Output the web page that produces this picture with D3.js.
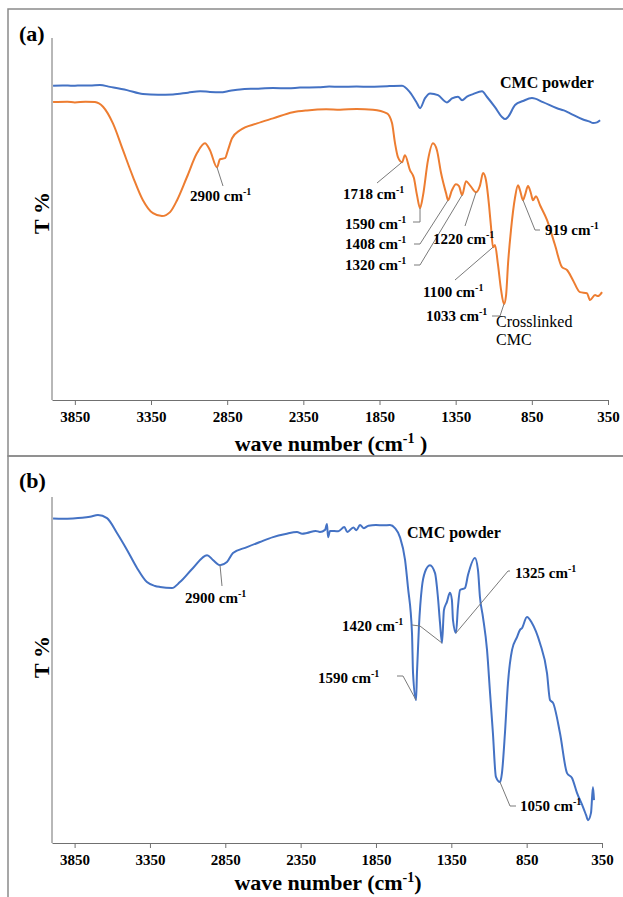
<!DOCTYPE html>
<html>
<head>
<meta charset="utf-8">
<script src="https://cdn.jsdelivr.net/npm/d3@7/dist/d3.min.js"></script>
<style>
  body { margin: 0; background: #fff; }
  text { font-family: "Liberation Serif", "Times New Roman", serif; font-weight: bold; fill: #000; }
</style>
</head>
<body>
<div id="chart"></div>
<script>
// tick labels shared by both panels
var tickValues = [3850, 3350, 2850, 2350, 1850, 1350, 850, 350];

// panel (a) - CMC powder, [wave number, T %]
var cmcPowderA = [
  [3993, 86.8], [3930, 86.9], [3862, 86.8], [3800, 86.9], [3751, 86.9], [3685, 87.0], [3619, 86.5],
  [3508, 85.6], [3403, 84.5], [3304, 84.3], [3206, 84.4], [3107, 84.9], [3028, 85.3], [2963, 85.1],
  [2897, 85.0], [2831, 85.4], [2766, 85.8], [2661, 86.0], [2549, 86.2], [2450, 86.1], [2372, 86.3],
  [2250, 86.4], [2180, 86.6], [2109, 86.5], [2000, 86.6], [1912, 86.5], [1800, 86.7], [1702, 86.8],
  [1650, 85.0], [1604, 82.0], [1584, 80.6], [1551, 83.4], [1518, 84.7], [1466, 84.2], [1407, 82.2],
  [1374, 83.3], [1335, 83.8], [1308, 82.8], [1276, 83.8], [1236, 84.5], [1177, 85.3], [1144, 83.7],
  [1092, 80.9], [1046, 78.2], [1026, 77.6], [1006, 78.2], [960, 81.5], [908, 82.6], [849, 83.4],
  [777, 82.3], [685, 80.6], [640, 80.0], [599, 79.2], [514, 77.5], [470, 76.9], [448, 76.5],
  [422, 76.7], [402, 77.3]
];

// panel (a) - crosslinked CMC
var crosslinkedA = [
  [3993, 82.3], [3900, 82.4], [3850, 82.2], [3780, 82.4], [3718, 82.3], [3665, 81.0], [3600, 76.4],
  [3534, 69.0], [3468, 61.6], [3403, 55.2], [3337, 51.6], [3278, 50.8], [3225, 51.9], [3179, 55.2],
  [3114, 61.6], [3048, 68.2], [2996, 70.9], [2963, 69.0], [2917, 64.3], [2897, 66.5], [2864, 66.8],
  [2845, 69.0], [2818, 72.3], [2766, 74.5], [2654, 76.4], [2549, 77.8], [2418, 79.5], [2326, 80.0],
  [2200, 80.3], [2109, 80.2], [2000, 80.4], [1893, 80.2], [1801, 79.2], [1768, 76.5], [1748, 70.9],
  [1729, 67.1], [1702, 65.7], [1683, 67.6], [1650, 63.5], [1624, 61.3], [1604, 56.6], [1584, 53.0],
  [1564, 56.6], [1532, 66.2], [1499, 70.9], [1473, 69.0], [1446, 62.7], [1413, 57.1], [1400, 55.2],
  [1374, 58.0], [1348, 59.6], [1328, 59.1], [1308, 56.6], [1282, 60.4], [1256, 59.3], [1216, 57.4],
  [1190, 59.3], [1170, 62.7], [1151, 60.7], [1131, 53.8], [1118, 47.8], [1105, 42.2], [1092, 42.8],
  [1072, 37.3], [1052, 30.4], [1033, 26.5], [1019, 29.0], [1006, 37.8], [987, 46.9], [960, 56.0],
  [941, 59.3], [928, 58.0], [908, 55.2], [895, 56.6], [875, 59.1], [856, 57.1], [843, 55.2],
  [823, 56.3], [796, 53.8], [750, 49.7], [698, 42.8], [652, 36.7], [619, 35.9], [580, 33.1],
  [534, 29.8], [488, 29.5], [468, 27.6], [435, 29.0], [416, 28.7], [389, 29.8]
];

// panel (b) - CMC powder
var cmcPowderB = [
  [3993, 93.8], [3930, 93.7], [3861, 93.8], [3800, 94.0], [3748, 94.3], [3695, 94.8], [3635, 93.9],
  [3569, 89.6], [3502, 84.7], [3436, 79.5], [3370, 75.4], [3316, 74.3], [3283, 74.0], [3204, 73.7],
  [3151, 75.4], [3064, 79.5], [2971, 83.2], [2932, 81.8], [2885, 80.3], [2839, 81.2], [2799, 83.8],
  [2706, 85.5], [2620, 87.0], [2533, 88.4], [2450, 89.3], [2374, 89.9], [2340, 89.4], [2308, 89.6],
  [2250, 90.2], [2222, 89.9], [2188, 90.5], [2175, 92.2], [2168, 88.4], [2155, 90.2], [2100, 90.1],
  [2060, 91.3], [2040, 89.9], [2000, 91.2], [1980, 90.4], [1956, 91.9], [1930, 91.0], [1900, 91.7],
  [1850, 91.9], [1800, 91.8], [1757, 91.9], [1724, 91.0], [1691, 88.4], [1657, 81.8], [1638, 74.0],
  [1611, 60.7], [1604, 49.1], [1584, 41.3], [1578, 49.1], [1565, 62.4], [1545, 74.0], [1525, 78.3],
  [1492, 80.3], [1458, 78.0], [1439, 71.1], [1425, 63.6], [1412, 57.8], [1399, 67.3], [1379, 69.7],
  [1359, 72.3], [1346, 70.2], [1339, 64.5], [1319, 60.7], [1306, 68.2], [1292, 73.1], [1259, 73.7],
  [1239, 77.5], [1193, 82.4], [1173, 78.9], [1160, 71.1], [1140, 65.3], [1113, 55.8], [1093, 43.4],
  [1074, 31.8], [1054, 19.1], [1027, 17.6], [1014, 20.2], [994, 31.8], [974, 46.2], [947, 55.8],
  [914, 59.5], [894, 61.6], [881, 62.1], [848, 65.3], [815, 63.6], [762, 57.8], [715, 49.1],
  [695, 41.3], [675, 40.5], [629, 31.8], [582, 20.2], [549, 18.8], [516, 14.5], [476, 10.4],
  [456, 8.1], [443, 6.6], [423, 8.7], [410, 16.2], [403, 12.4]
];

// peak labels: text, marked wave number, T % at the mark
var peaksA = [
  { text: '2900', wn: 2917, t: 64.3 },
  { text: '1718', wn: 1702, t: 65.7 },
  { text: '1590', wn: 1584, t: 53.0 },
  { text: '1408', wn: 1400, t: 55.2 },
  { text: '1320', wn: 1308, t: 56.6 },
  { text: '1220', wn: 1216, t: 57.4 },
  { text: '1100', wn: 1105, t: 42.2 },
  { text: '1033', wn: 1033, t: 26.5 },
  { text: '919', wn: 908, t: 55.2 }
];
var peaksB = [
  { text: '2900', wn: 2885, t: 80.3 },
  { text: '1325', wn: 1319, t: 60.7 },
  { text: '1420', wn: 1412, t: 57.8 },
  { text: '1590', wn: 1584, t: 41.3 },
  { text: '1050', wn: 1027, t: 17.6 }
];

// label placement (pixels): text left/baseline, leader points before the mark
var layoutA = [
  { lx: 190, ly: 201, lead: [[223, 186]] },
  { lx: 343, ly: 199, lead: [[377, 183]] },
  { lx: 345, ly: 229, lead: [[413, 222], ['x', 222]] },
  { lx: 345, ly: 249, lead: [[414, 244], [420, 244]] },
  { lx: 345, ly: 270, lead: [[414, 265], [420, 265]] },
  { lx: 433, ly: 244, lead: [[465, 226]] },
  { lx: 423, ly: 297, lead: [[455, 280]] },
  { lx: 426, ly: 321, lead: [[492, 316], [500, 316]] },
  { lx: 545, ly: 235, lead: [[540, 230], [535, 230]] }
];
var layoutB = [
  { lx: 185, ly: 603, lead: [[222, 586]] },
  { lx: 515, ly: 578, lead: [[510, 571], [508, 571]] },
  { lx: 342, ly: 631, lead: [[412, 625], [420, 626]] },
  { lx: 318, ly: 683, lead: [[397, 676], [403, 676]] },
  { lx: 520, ly: 811, lead: [[516, 806], [510, 806]] }
];

var W = 623, H = 897;
var svg = d3.select('#chart').append('svg')
  .attr('width', W).attr('height', H)
  .style('display', 'block');

// panel frames
svg.append('rect').attr('x', 8).attr('y', 9).attr('width', 640).attr('height', 447)
  .attr('fill', 'none').attr('stroke', '#8a8a8a').attr('stroke-width', 1.5);
svg.append('rect').attr('x', 8).attr('y', 456).attr('width', 640).attr('height', 460)
  .attr('fill', 'none').attr('stroke', '#8a8a8a').attr('stroke-width', 1.5);

function addCm(sel, num) {
  sel.append('tspan').text(num + ' cm');
  sel.append('tspan').attr('dy', -6).style('font-size', '10px').text('-1');
}

function drawPanel(p) {
  var g = svg.append('g');
  var xScale = d3.scaleLinear().domain([4000, 350]).range([p.left, p.right]);
  var yScale = d3.scaleLinear().domain([0, 100]).range([p.bottom, p.top]);

  // y axis line only
  g.append('line')
    .attr('x1', p.left).attr('x2', p.left)
    .attr('y1', p.top).attr('y2', p.bottom)
    .attr('stroke', '#707070').attr('stroke-width', 1);

  var xAxis = g.append('g')
    .attr('transform', 'translate(0,' + p.bottom + ')')
    .call(d3.axisBottom(xScale).tickValues(tickValues).tickFormat(d3.format('d'))
      .tickSize(5).tickPadding(6).tickSizeOuter(0));
  xAxis.select('path.domain').attr('stroke', '#707070');
  xAxis.selectAll('.tick line').attr('stroke', '#707070');
  xAxis.selectAll('.tick text')
    .style('font-family', '"Liberation Serif", "Times New Roman", serif')
    .style('font-weight', 'bold').style('font-size', '15px').attr('fill', '#000');

  var line = d3.line()
    .curve(d3.curveMonotoneX)
    .x(function(d) { return xScale(d[0]); })
    .y(function(d) { return yScale(d[1]); });

  p.series.forEach(function(s) {
    g.append('path')
      .datum(s.data)
      .attr('d', line)
      .attr('fill', 'none')
      .attr('stroke', s.color)
      .attr('stroke-width', 2)
      .attr('stroke-linejoin', 'round');
  });

  // peak labels with leaders
  p.peaks.forEach(function(pk, i) {
    var lay = p.layout[i];
    var px = xScale(pk.wn), py = yScale(pk.t);
    var pts = lay.lead.map(function(q) { return [q[0] === 'x' ? px : q[0], q[1]]; });
    pts.push([px, py]);
    g.append('path')
      .attr('d', d3.line()(pts))
      .attr('fill', 'none')
      .attr('stroke', '#7a7a7a')
      .attr('stroke-width', 1);
    var t = g.append('text')
      .attr('x', lay.lx).attr('y', lay.ly)
      .style('font-size', '15px');
    addCm(t, pk.text);
  });

  // panel letter
  g.append('text').attr('x', 19).attr('y', p.letterY)
    .style('font-size', '22px').text(p.letter);

  // axis titles
  g.append('text')
    .attr('transform', 'translate(' + 49 + ',' + p.tY + ') rotate(-90)')
    .attr('text-anchor', 'middle')
    .style('font-size', '22px')
    .text('T %');

  var xt = g.append('text')
    .attr('x', p.titleX).attr('y', p.titleY)
    .attr('text-anchor', 'middle')
    .style('font-size', '22px');
  xt.append('tspan').text('wave number (cm');
  xt.append('tspan').attr('dy', -8).style('font-size', '14px').text('-1');
  xt.append('tspan').attr('dy', 8).text(p.titleSpace ? ' )' : ')');

  return { x: xScale, y: yScale, g: g };
}

var pa = drawPanel({
  left: 52, right: 608, top: 38, bottom: 400,
  series: [
    { data: cmcPowderA, color: '#4472c4' },
    { data: crosslinkedA, color: '#ed7d31' }
  ],
  peaks: peaksA, layout: layoutA,
  letter: '(a)', letterY: 41, tY: 213,
  titleX: 331, titleY: 451, titleSpace: true
});

pa.g.append('text').attr('x', 500).attr('y', 88).style('font-size', '16px').text('CMC powder');
pa.g.append('text').attr('x', 496).attr('y', 327).style('font-size', '16px')
  .style('font-weight', 'normal').text('Crosslinked');
pa.g.append('text').attr('x', 496).attr('y', 345).style('font-size', '16px')
  .style('font-weight', 'normal').text('CMC');

var pb = drawPanel({
  left: 52, right: 602, top: 497, bottom: 843,
  series: [
    { data: cmcPowderB, color: '#4472c4' }
  ],
  peaks: peaksB, layout: layoutB,
  letter: '(b)', letterY: 488, tY: 657,
  titleX: 328, titleY: 890, titleSpace: false
});

pb.g.append('text').attr('x', 407).attr('y', 538).style('font-size', '16px').text('CMC powder');
</script>
</body>
</html>
